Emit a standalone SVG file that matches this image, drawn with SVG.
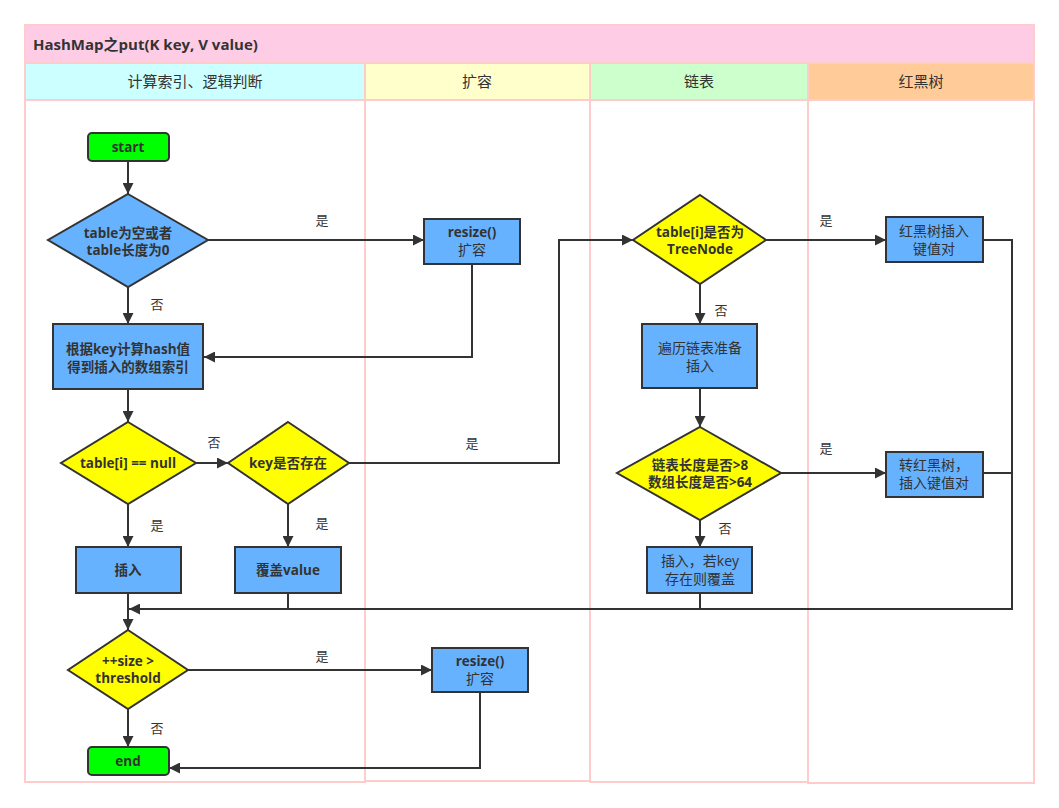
<svg xmlns="http://www.w3.org/2000/svg" width="1059" height="808" viewBox="0 0 1059 808">
<defs>
<marker id="arr" viewBox="0 0 10 10" refX="10" refY="5" markerWidth="11" markerHeight="11" markerUnits="userSpaceOnUse" orient="auto">
<path d="M0,0 L10,5 L0,10 z" fill="#333333"/>
</marker>
<style>
text{font-family:"Open Sans","Noto Sans CJK SC",sans-serif;fill:#333333;}
.lane{fill:none;stroke:#FFCCCC;stroke-width:2;}
.hdr{stroke:#FFCCCC;stroke-width:2;}
.ht{font-size:15px;text-anchor:middle;}
.proc{fill:#66B2FF;stroke:#333333;stroke-width:2;}
.dec{fill:#FFFF00;stroke:#333333;stroke-width:2;}
.term{fill:#00FF00;stroke:#333333;stroke-width:2;}
.nt{font-size:13.5px;font-weight:bold;text-anchor:middle;}
.nr{font-size:14px;text-anchor:middle;}
.lb{font-size:13px;text-anchor:middle;}
.e{fill:none;stroke:#333333;stroke-width:2;}
.ea{fill:none;stroke:#333333;stroke-width:2;marker-end:url(#arr);}
</style>
</defs>
<rect width="1059" height="808" fill="#ffffff"/>
<g id="pool">
<rect x="25" y="25" width="1009" height="38" fill="#FFCCE6" stroke="#FFCCCC" stroke-width="2"/>
<text x="33" y="50" style="font-size:15px;font-weight:bold;">HashMap之put(K key, V value)</text>
<rect class="hdr" x="25" y="63" width="340" height="37" fill="#CCFFFF"/>
<rect class="hdr" x="365" y="63" width="225" height="37" fill="#FFFFCC"/>
<rect class="hdr" x="590" y="63" width="218" height="37" fill="#CCFFCC"/>
<rect class="hdr" x="808" y="63" width="226" height="37" fill="#FFCC99"/>
<rect class="lane" x="25" y="100" width="340" height="682"/>
<rect class="lane" x="365" y="100" width="225" height="681"/>
<rect class="lane" x="590" y="100" width="218" height="682"/>
<rect class="lane" x="808" y="100" width="226" height="683"/>
<text class="ht" x="195" y="87">计算索引、逻辑判断</text>
<text class="ht" x="477" y="87">扩容</text>
<text class="ht" x="699" y="87">链表</text>
<text class="ht" x="921" y="87">红黑树</text>
</g>
<g id="connectors">
<path class="ea" d="M128,161 L128,194"/>
<path class="ea" d="M208,240 L424,240"/>
<path class="ea" d="M472,264 L472,357 L204,357"/>
<path class="ea" d="M128,287 L128,324"/>
<path class="ea" d="M128,389 L128,422"/>
<path class="ea" d="M196,463 L228,463"/>
<path class="ea" d="M128,504 L128,547"/>
<path class="ea" d="M288,504 L288,547"/>
<path class="ea" d="M349,463 L559,463 L559,240 L633,240"/>
<path class="ea" d="M766,240 L886,240"/>
<path class="ea" d="M700,284 L700,324"/>
<path class="ea" d="M700,388 L700,427"/>
<path class="ea" d="M781,473 L886,473"/>
<path class="ea" d="M700,520 L700,547"/>
<path class="ea" d="M128,593 L128,630"/>
<path class="e" d="M288,593 L288,609"/>
<path class="e" d="M700,593 L700,609"/>
<path class="e" d="M983,473 L1012,473"/>
<path class="ea" d="M983,240 L1012,240 L1012,609 L129,609"/>
<path class="ea" d="M188,670 L432,670"/>
<path class="ea" d="M128,709 L128,747"/>
<path class="ea" d="M480,692 L480,768 L169,768"/>
<text class="lb" x="322" y="225">是</text>
<text class="lb" x="157" y="309">否</text>
<text class="lb" x="214" y="447">否</text>
<text class="lb" x="157" y="530">是</text>
<text class="lb" x="322" y="528">是</text>
<text class="lb" x="472" y="448">是</text>
<text class="lb" x="721" y="315">否</text>
<text class="lb" x="826" y="225">是</text>
<text class="lb" x="826" y="453">是</text>
<text class="lb" x="725" y="533">否</text>
<text class="lb" x="322" y="661">是</text>
<text class="lb" x="157" y="733">否</text>
</g>
<g id="start">
<rect class="term" x="88" y="133" width="81" height="28" rx="4"/>
<text class="nt" x="128" y="152">start</text>
</g>
<g id="d-table-empty">
<polygon class="proc" points="128,194 208,240 128,287 48,240"/>
<text class="nt" x="128" y="238">table为空或者</text>
<text class="nt" x="128" y="255">table长度为0</text>
</g>
<g id="resize1">
<rect class="proc" x="424" y="219" width="96" height="45"/>
<text class="nt" x="472" y="237">resize()</text>
<text class="nr" x="472" y="255">扩容</text>
</g>
<g id="hash">
<rect class="proc" x="53" y="324" width="150" height="65"/>
<text class="nt" x="128" y="354">根据key计算hash值</text>
<text class="nt" x="128" y="372">得到插入的数组索引</text>
</g>
<g id="d-null">
<polygon class="dec" points="128,422 196,463 128,504 61,463"/>
<text class="nt" x="128" y="468">table[i] == null</text>
</g>
<g id="d-key">
<polygon class="dec" points="288,422 349,463 288,504 228,463"/>
<text class="nt" x="288" y="468">key是否存在</text>
</g>
<g id="insert">
<rect class="proc" x="76" y="547" width="105" height="46"/>
<text class="nt" x="128" y="575">插入</text>
</g>
<g id="cover">
<rect class="proc" x="235" y="547" width="106" height="46"/>
<text class="nt" x="288" y="575">覆盖value</text>
</g>
<g id="d-treenode">
<polygon class="dec" points="700,195 766,240 700,284 633,240"/>
<text class="nt" x="700" y="237">table[i]是否为</text>
<text class="nt" x="700" y="254">TreeNode</text>
</g>
<g id="rb-insert">
<rect class="proc" x="886" y="217" width="97" height="45"/>
<text class="nr" x="934" y="236">红黑树插入</text>
<text class="nr" x="934" y="254">键值对</text>
</g>
<g id="traverse">
<rect class="proc" x="642" y="324" width="115" height="64"/>
<text class="nr" x="700" y="353">遍历链表准备</text>
<text class="nr" x="700" y="371">插入</text>
</g>
<g id="d-len">
<polygon class="dec" points="700,427 781,473 700,520 617,473"/>
<text class="nt" x="700" y="470">链表长度是否&gt;8</text>
<text class="nt" x="700" y="487">数组长度是否&gt;64</text>
</g>
<g id="to-rb">
<rect class="proc" x="886" y="452" width="97" height="45"/>
<text class="nr" x="934" y="470">转红黑树，</text>
<text class="nr" x="934" y="488">插入键值对</text>
</g>
<g id="insert-cover">
<rect class="proc" x="647" y="547" width="105" height="46"/>
<text class="nr" x="700" y="566">插入，若key</text>
<text class="nr" x="700" y="584">存在则覆盖</text>
</g>
<g id="d-size">
<polygon class="dec" points="128,630 188,670 128,709 68,670"/>
<text class="nt" x="128" y="666">++size &gt;</text>
<text class="nt" x="128" y="683">threshold</text>
</g>
<g id="resize2">
<rect class="proc" x="432" y="648" width="96" height="44"/>
<text class="nt" x="480" y="666">resize()</text>
<text class="nr" x="480" y="684">扩容</text>
</g>
<g id="end">
<rect class="term" x="88" y="747" width="81" height="28" rx="4"/>
<text class="nt" x="128" y="766">end</text>
</g>
</svg>
